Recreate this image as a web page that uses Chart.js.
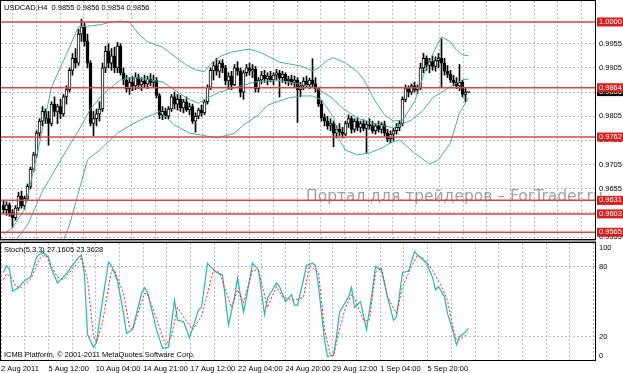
<!DOCTYPE html>
<html>
<head>
<meta charset="utf-8">
<script src="https://cdn.jsdelivr.net/npm/chart.js@4.4.0/dist/chart.umd.min.js"></script>
<style>
  html, body { margin: 0; padding: 0; background: #fff; }
  #wrap { position: relative; width: 623px; height: 373px; overflow: hidden; }
  #mainChart { position: absolute; left: 0; top: 0; }
  #stochChart { position: absolute; left: 0; top: 242px; }
  #sep { position: absolute; left: 0; top: 240px; width: 596px; height: 2px; background: #9c9c9c; }
</style>
</head>
<body>
<div id="wrap">
  <canvas id="mainChart" width="623" height="240"></canvas>
  <div id="sep"></div>
  <canvas id="stochChart" width="623" height="131"></canvas>
</div>
<script>
// USDCAD H4 свечи (open / high / low / close), по одному значению на бар
const openP = [0.9620,0.9612,0.9622,0.9605,0.9595,0.9615,0.9640,0.9620,0.9635,0.9660,0.9695,0.9725,0.9770,0.9795,0.9815,0.9800,0.9790,0.9830,0.9815,0.9825,
  0.9810,0.9845,0.9860,0.9900,0.9925,0.9915,0.9975,0.9990,0.9960,0.9915,0.9790,0.9800,0.9810,0.9820,0.9905,0.9940,0.9915,0.9930,0.9905,0.9950,
  0.9895,0.9880,0.9862,0.9875,0.9868,0.9885,0.9870,0.9878,0.9872,0.9882,0.9875,0.9880,0.9848,0.9808,0.9815,0.9805,0.9820,0.9845,0.9830,0.9840,
  0.9822,0.9835,0.9818,0.9825,0.9795,0.9805,0.9818,0.9812,0.9835,0.9865,0.9900,0.9910,0.9898,0.9915,0.9905,0.9878,0.9888,0.9870,0.9905,0.9898,
  0.9855,0.9895,0.9905,0.9898,0.9902,0.9862,0.9880,0.9890,0.9882,0.9888,0.9880,0.9890,0.9895,0.9885,0.9892,0.9878,0.9882,0.9875,0.9880,0.9860,
  0.9868,0.9878,0.9870,0.9880,0.9872,0.9862,0.9830,0.9802,0.9795,0.9785,0.9790,0.9770,0.9778,0.9772,0.9768,0.9790,0.9800,0.9778,0.9795,0.9782,
  0.9790,0.9780,0.9788,0.9785,0.9775,0.9785,0.9778,0.9788,0.9770,0.9758,0.9768,0.9775,0.9782,0.9790,0.9840,0.9862,0.9855,0.9868,0.9860,0.9865,
  0.9905,0.9925,0.9910,0.9918,0.9908,0.9920,0.9925,0.9915,0.9898,0.9892,0.9880,0.9875,0.9868,0.9875,0.9850,0.9855];
const highP = [0.9630,0.9628,0.9626,0.9612,0.9620,0.9648,0.9650,0.9640,0.9665,0.9700,0.9730,0.9775,0.9800,0.9825,0.9820,0.9815,0.9835,0.9845,0.9830,0.9840,
  0.9850,0.9868,0.9905,0.9935,0.9945,0.9985,1.0006,0.9998,0.9975,0.9920,0.9815,0.9820,0.9835,0.9915,0.9950,0.9955,0.9945,0.9948,0.9958,0.9955,
  0.9905,0.9890,0.9885,0.9888,0.9895,0.9892,0.9885,0.9890,0.9888,0.9893,0.9890,0.9885,0.9852,0.9825,0.9822,0.9825,0.9850,0.9855,0.9850,0.9848,
  0.9840,0.9845,0.9832,0.9830,0.9812,0.9822,0.9828,0.9840,0.9870,0.9905,0.9918,0.9925,0.9920,0.9922,0.9910,0.9895,0.9898,0.9912,0.9918,0.9905,
  0.9900,0.9912,0.9915,0.9912,0.9908,0.9885,0.9898,0.9900,0.9895,0.9898,0.9895,0.9902,0.9900,0.9898,0.9895,0.9888,0.9890,0.9888,0.9885,0.9875,
  0.9885,0.9888,0.9884,0.9924,0.9885,0.9865,0.9838,0.9810,0.9805,0.9800,0.9795,0.9785,0.9790,0.9782,0.9795,0.9808,0.9805,0.9800,0.9802,0.9795,
  0.9798,0.9795,0.9800,0.9795,0.9790,0.9795,0.9792,0.9795,0.9778,0.9775,0.9780,0.9790,0.9795,0.9845,0.9870,0.9868,0.9872,0.9875,0.9870,0.9915,
  0.9935,0.9930,0.9925,0.9930,0.9928,0.9935,0.9965,0.9925,0.9910,0.9900,0.9890,0.9885,0.9912,0.9880,0.9862,0.9856];
const lowP = [0.9605,0.9600,0.9598,0.9575,0.9590,0.9610,0.9615,0.9612,0.9630,0.9655,0.9690,0.9720,0.9760,0.9785,0.9790,0.9745,0.9785,0.9805,0.9790,0.9800,
  0.9805,0.9830,0.9855,0.9890,0.9905,0.9910,0.9960,0.9950,0.9905,0.9785,0.9765,0.9785,0.9795,0.9815,0.9895,0.9905,0.9900,0.9895,0.9895,0.9890,
  0.9870,0.9855,0.9850,0.9858,0.9860,0.9862,0.9858,0.9865,0.9862,0.9868,0.9865,0.9843,0.9800,0.9798,0.9800,0.9800,0.9815,0.9820,0.9818,0.9815,
  0.9812,0.9815,0.9808,0.9790,0.9772,0.9800,0.9805,0.9808,0.9830,0.9860,0.9880,0.9890,0.9885,0.9895,0.9870,0.9862,0.9860,0.9868,0.9890,0.9845,
  0.9840,0.9888,0.9890,0.9885,0.9855,0.9855,0.9872,0.9875,0.9870,0.9876,0.9870,0.9880,0.9845,0.9875,0.9872,0.9868,0.9870,0.9866,0.9792,0.9845,
  0.9860,0.9865,0.9862,0.9865,0.9855,0.9825,0.9795,0.9785,0.9778,0.9775,0.9742,0.9760,0.9765,0.9760,0.9765,0.9782,0.9770,0.9772,0.9775,0.9772,
  0.9775,0.9730,0.9778,0.9770,0.9768,0.9772,0.9770,0.9765,0.9752,0.9750,0.9755,0.9768,0.9775,0.9785,0.9835,0.9845,0.9850,0.9855,0.9852,0.9860,
  0.9895,0.9900,0.9895,0.9900,0.9898,0.9905,0.9865,0.9890,0.9885,0.9875,0.9868,0.9862,0.9858,0.9845,0.9835,0.9854];
const closeP = [0.9612,0.9622,0.9605,0.9595,0.9615,0.9640,0.9620,0.9635,0.9660,0.9695,0.9725,0.9770,0.9795,0.9815,0.9800,0.9790,0.9830,0.9815,0.9825,0.9810,
  0.9845,0.9860,0.9900,0.9925,0.9915,0.9975,0.9990,0.9960,0.9915,0.9790,0.9800,0.9810,0.9820,0.9905,0.9940,0.9915,0.9930,0.9905,0.9950,0.9895,
  0.9880,0.9862,0.9875,0.9868,0.9885,0.9870,0.9878,0.9872,0.9882,0.9875,0.9880,0.9848,0.9808,0.9815,0.9805,0.9820,0.9845,0.9830,0.9840,0.9822,
  0.9835,0.9818,0.9825,0.9795,0.9805,0.9818,0.9812,0.9835,0.9865,0.9900,0.9910,0.9898,0.9915,0.9905,0.9878,0.9888,0.9870,0.9905,0.9898,0.9855,
  0.9895,0.9905,0.9898,0.9902,0.9862,0.9880,0.9890,0.9882,0.9888,0.9880,0.9890,0.9895,0.9885,0.9892,0.9878,0.9882,0.9875,0.9880,0.9860,0.9868,
  0.9878,0.9870,0.9880,0.9872,0.9862,0.9830,0.9802,0.9795,0.9785,0.9790,0.9770,0.9778,0.9772,0.9768,0.9790,0.9800,0.9778,0.9795,0.9782,0.9790,
  0.9780,0.9788,0.9785,0.9775,0.9785,0.9778,0.9788,0.9770,0.9758,0.9768,0.9775,0.9782,0.9790,0.9840,0.9862,0.9855,0.9868,0.9860,0.9865,0.9905,
  0.9925,0.9910,0.9918,0.9908,0.9920,0.9925,0.9915,0.9898,0.9892,0.9880,0.9875,0.9868,0.9875,0.9850,0.9855,0.9856];

// Bollinger Bands, [номер бара, цена]
const bbUpper = [[0,0.9560],[3,0.9575],[7,0.9612],[11,0.9720],[16,0.9865],[20,0.9920],[25,0.9990],[29,0.9992],[32,0.9994],[36,1.0000],
  [39,1.0002],[42,1.0000],[45,0.9975],[48,0.9959],[53,0.9948],[58,0.9924],[61,0.9911],[64,0.9901],[67,0.9897],[69,0.9913],[72,0.9928],
  [76,0.9938],[82,0.9944],[86,0.9936],[92,0.9917],[99,0.9909],[103,0.9899],[105,0.9905],[108,0.9921],[110,0.9926],[114,0.9915],[118,0.9897],
  [120,0.9882],[124,0.9835],[127,0.9808],[130,0.9795],[133,0.9797],[137,0.9835],[140,0.9890],[144,0.9946],[146,0.9969],[149,0.9959],
  [151,0.9942],[153,0.9932],[155,0.9930]];
const bbMiddle = [[0,0.9510],[3,0.9540],[8,0.9580],[13,0.9650],[21,0.9735],[25,0.9775],[29,0.9820],[33,0.9850],[39,0.9880],[43,0.9886],
  [49,0.9880],[53,0.9876],[56,0.9864],[61,0.9843],[65,0.9832],[68,0.9843],[72,0.9855],[78,0.9866],[84,0.9876],[91,0.9880],[100,0.9870],
  [104,0.9864],[109,0.9845],[113,0.9822],[118,0.9801],[124,0.9789],[130,0.9781],[136,0.9797],[140,0.9818],[143,0.9843],[150,0.9870],
  [153,0.9880],[155,0.9882]];
const bbLower = [[0,0.9440],[15,0.9500],[20,0.9549],[22,0.9580],[28,0.9715],[32,0.9735],[38,0.9770],[43,0.9789],[47,0.9801],[52,0.9815],
  [57,0.9787],[62,0.9770],[66,0.9766],[71,0.9760],[77,0.9770],[80,0.9787],[85,0.9808],[88,0.9828],[95,0.9843],[99,0.9847],[103,0.9847],
  [106,0.9839],[110,0.9803],[112,0.9756],[114,0.9735],[118,0.9725],[122,0.9729],[126,0.9739],[129,0.9750],[132,0.9756],[137,0.9729],
  [142,0.9706],[145,0.9715],[149,0.9750],[152,0.9812],[155,0.9843]];

// Stochastic(5,3,3): %K и %D, [номер бара, значение]
const stochK = [[0,75],[1,81],[2,78],[3,59],[5,62],[7,68],[9,71],[11,88],[13,93],[15,88],[16,78],[18,66],[21,74],[25,88],[26,90],[27,72],
  [28,22],[30,11],[31,15],[32,34],[35,84],[36,81],[38,68],[40,40],[41,23],[43,26],[46,57],[47,62],[48,58],[51,26],[53,10],[55,11],[57,51],
  [58,34],[60,33],[62,19],[65,43],[66,45],[68,83],[69,80],[71,75],[73,73],[75,30],[77,54],[78,70],[80,41],[81,54],[83,83],[85,77],[87,39],
  [88,53],[91,66],[92,63],[94,50],[96,56],[97,47],[98,47],[100,69],[101,81],[103,83],[104,81],[105,63],[107,17],[108,3],[110,4],[111,20],
  [112,41],[115,54],[116,62],[117,45],[119,50],[121,26],[123,60],[124,80],[126,77],[128,54],[130,34],[131,37],[133,75],[135,76],[137,93],
  [138,90],[141,83],[143,71],[144,60],[145,63],[147,54],[148,40],[150,23],[151,13],[152,20],[154,24],[155,27.1605]];
const stochD = [[0,69],[1,74],[3,70],[4,63],[6,62],[9,69],[12,87],[14,90],[16,80],[18,71],[20,69],[25,84],[26,88],[28,69],[30,20],[31,15],
  [33,32],[36,77],[37,77],[40,57],[42,28],[43,26],[47,57],[48,57],[52,28],[54,13],[56,20],[58,45],[60,37],[63,26],[66,37],[70,77],[72,75],
  [76,45],[78,60],[80,49],[83,77],[85,77],[88,45],[91,63],[93,54],[97,51],[100,54],[102,81],[105,75],[107,26],[109,4],[110,4],[112,26],
  [114,45],[116,56],[117,53],[120,34],[122,34],[124,75],[126,79],[128,54],[131,40],[133,63],[136,80],[138,90],[140,87],[143,77],[146,63],
  [148,51],[150,26],[151,17],[153,19],[155,23.3628]];

const priceTicks = [0.9555, 0.9605, 0.9655, 0.9705, 0.9755, 0.9805, 0.9855, 0.9905, 0.9955];
const levels = [1.0000, 0.9864, 0.9762, 0.9631, 0.9603, 0.9565];
const bidPrice = 0.9856;
const stochTicks = [20, 80];
const timeLabels = ['2 Aug 2011', '5 Aug 12:00', '10 Aug 04:00', '14 Aug 21:00', '17 Aug 12:00',
  '22 Aug 04:00', '24 Aug 20:00', '29 Aug 12:00', '1 Sep 04:00', '5 Sep 20:00'];

Chart.defaults.font.family = "'Liberation Sans', Arial, sans-serif";
Chart.defaults.font.size = 7.5;
Chart.defaults.color = '#000';
Chart.defaults.animation = false;

const X_MIN = -0.8333, X_MAX = 197.1667; // 3 px на бар
const GRID_STEP = 7.9;                     // бары между вертикальными линиями сетки
const GRID_COLOR = '#bcbcbc';
const BAND_COLOR = 'rgb(70,175,155)';

function verticalGrid(scale) {
  const t = [];
  for (let k = 0; X_MIN + k * GRID_STEP <= X_MAX; k++) t.push({ value: X_MIN + k * GRID_STEP });
  scale.ticks = t;
}
// оси не должны сдвигать область графика из-за подписей
function fixSize(w, h) {
  return s => {
    if (w !== null) s.width = w;
    if (h !== null) s.height = h;
    s.paddingTop = 0; s.paddingBottom = 0; s.paddingLeft = 0; s.paddingRight = 0;
  };
}
const pairs = arr => arr.map(p => ({ x: p[0], y: p[1] }));

// рамка вокруг области графика
const framePlugin = {
  id: 'frame',
  afterDraw(chart) {
    const { ctx, chartArea: a } = chart;
    ctx.save();
    ctx.strokeStyle = '#000';
    ctx.lineWidth = 1;
    ctx.strokeRect(a.left - 0.5, a.top - 0.5, a.right - a.left + 1, a.bottom - a.top + 1);
    ctx.restore();
  }
};

// подписи основного окна: заголовок, водяной знак, ценовые метки
const mainTextPlugin = {
  id: 'mainText',
  beforeDatasetsDraw(chart) {
    const ctx = chart.ctx;
    ctx.save();
    ctx.font = "15.5px 'DejaVu Sans'";
    ctx.fillStyle = 'rgb(160,160,160)';
    ctx.textBaseline = 'middle';
    ctx.fillText('Портал для трейдеров – ForTrader.ru', 306, 197);
    ctx.restore();
  },
  afterDraw(chart) {
    const ctx = chart.ctx;
    const y = chart.scales.y;
    ctx.save();
    ctx.font = "7.5px 'Liberation Sans'";
    ctx.textBaseline = 'middle';
    ctx.fillStyle = '#000';
    ctx.fillText('USDCAD,H4  0.9855 0.9856 0.9854 0.9856', 4, 8);
    // текущая цена
    const py = y.getPixelForValue(bidPrice);
    ctx.fillStyle = '#000';
    ctx.fillRect(597, py - 4.5, 26, 9);
    ctx.fillStyle = '#fff';
    ctx.fillText(bidPrice.toFixed(4), 599, py);
    levels.forEach(l => {
      const ly = y.getPixelForValue(l);
      ctx.fillStyle = 'rgb(225,25,25)';
      ctx.fillRect(597, ly - 4.5, 26, 9);
      ctx.fillStyle = '#fff';
      ctx.fillText(l.toFixed(4), 599, ly);
    });
    ctx.restore();
  }
};

const stochTextPlugin = {
  id: 'stochText',
  afterDraw(chart) {
    const ctx = chart.ctx;
    const y = chart.scales.y;
    ctx.save();
    ctx.font = "7.5px 'Liberation Sans'";
    ctx.textBaseline = 'middle';
    ctx.fillStyle = '#000';
    ctx.fillText('Stoch(5,3,3) 27.1605 23.3628', 4, 8);
    ctx.fillText('ICMB Platform, © 2001-2011 MetaQuotes Software Corp.', 4, 113);
    ctx.fillText('100', 599, y.getPixelForValue(100) + 5);
    ctx.fillText('0', 599, y.getPixelForValue(0) - 4);
    ctx.restore();
  }
};

const levelDatasets = levels.map(l => ({
  type: 'line',
  data: [{ x: X_MIN, y: l }, { x: X_MAX, y: l }],
  borderColor: 'rgb(215,70,70)',
  borderWidth: 1.5,
  pointRadius: 0,
  order: 0
}));

const bandDataset = arr => ({
  type: 'line',
  data: pairs(arr),
  borderColor: BAND_COLOR,
  borderWidth: 1,
  pointRadius: 0,
  tension: 0,
  order: 1
});

new Chart(document.getElementById('mainChart'), {
  type: 'bar',
  data: {
    datasets: [
      ...levelDatasets,
      bandDataset(bbUpper),
      bandDataset(bbMiddle),
      bandDataset(bbLower),
      {
        data: openP.map((o, i) => ({ x: i, y: [o, closeP[i]] })),
        backgroundColor: openP.map((o, i) => (closeP[i] >= o ? '#fff' : '#000')),
        borderColor: '#000',
        borderWidth: 1,
        borderSkipped: false,
        barThickness: 3,
        minBarLength: 1,
        grouped: false,
        order: 2
      },
      {
        data: highP.map((h, i) => ({ x: i, y: [lowP[i], h] })),
        backgroundColor: '#000',
        barThickness: 1,
        grouped: false,
        order: 3
      }
    ]
  },
  options: {
    responsive: false,
    layout: { autoPadding: false, padding: { left: 1, top: 1, bottom: 1, right: 0 } },
    plugins: { legend: { display: false }, tooltip: { enabled: false } },
    scales: {
      x: {
        type: 'linear', min: X_MIN, max: X_MAX, offset: false,
        afterBuildTicks: verticalGrid,
        afterFit: fixSize(null, 0),
        ticks: { display: false },
        grid: { color: GRID_COLOR, drawTicks: false },
        border: { display: false, dash: [2, 2] }
      },
      y: {
        position: 'right', min: 0.95511, max: 1.00434,
        afterBuildTicks: s => { s.ticks = priceTicks.map(v => ({ value: v })); },
        afterFit: fixSize(28, null),
        ticks: { padding: 4, callback: v => v.toFixed(4) },
        grid: { color: GRID_COLOR, drawTicks: false },
        border: { display: true, color: '#000', dash: [2, 2] }
      }
    }
  },
  plugins: [mainTextPlugin, framePlugin]
});

new Chart(document.getElementById('stochChart'), {
  type: 'line',
  data: {
    datasets: [
      { data: pairs(stochD), borderColor: 'rgb(225,40,40)', borderWidth: 1, borderDash: [2, 2], pointRadius: 0, tension: 0 },
      { data: pairs(stochK), borderColor: 'rgb(40,180,175)', borderWidth: 1.2, pointRadius: 0, tension: 0 }
    ]
  },
  options: {
    responsive: false,
    layout: { autoPadding: false, padding: { left: 1, top: 1, bottom: 0, right: 0 } },
    plugins: { legend: { display: false }, tooltip: { enabled: false } },
    scales: {
      x: {
        type: 'linear', min: X_MIN, max: X_MAX, offset: false,
        afterBuildTicks: verticalGrid,
        afterFit: fixSize(null, 13),
        ticks: {
          align: 'start', padding: 4, autoSkip: false, maxRotation: 0,
          callback: (v, i) => (i % 2 === 0 && timeLabels[i / 2]) ? timeLabels[i / 2] : ''
        },
        grid: { color: GRID_COLOR, drawTicks: false },
        border: { display: false, dash: [2, 2] }
      },
      y: {
        position: 'right', min: 0, max: 100.3,
        afterBuildTicks: s => { s.ticks = stochTicks.map(v => ({ value: v })); },
        afterFit: fixSize(28, null),
        ticks: { padding: 4 },
        grid: { color: GRID_COLOR, drawTicks: false },
        border: { display: true, color: '#000', dash: [2, 2] }
      }
    }
  },
  plugins: [stochTextPlugin, framePlugin]
});
</script>
</body>
</html>
